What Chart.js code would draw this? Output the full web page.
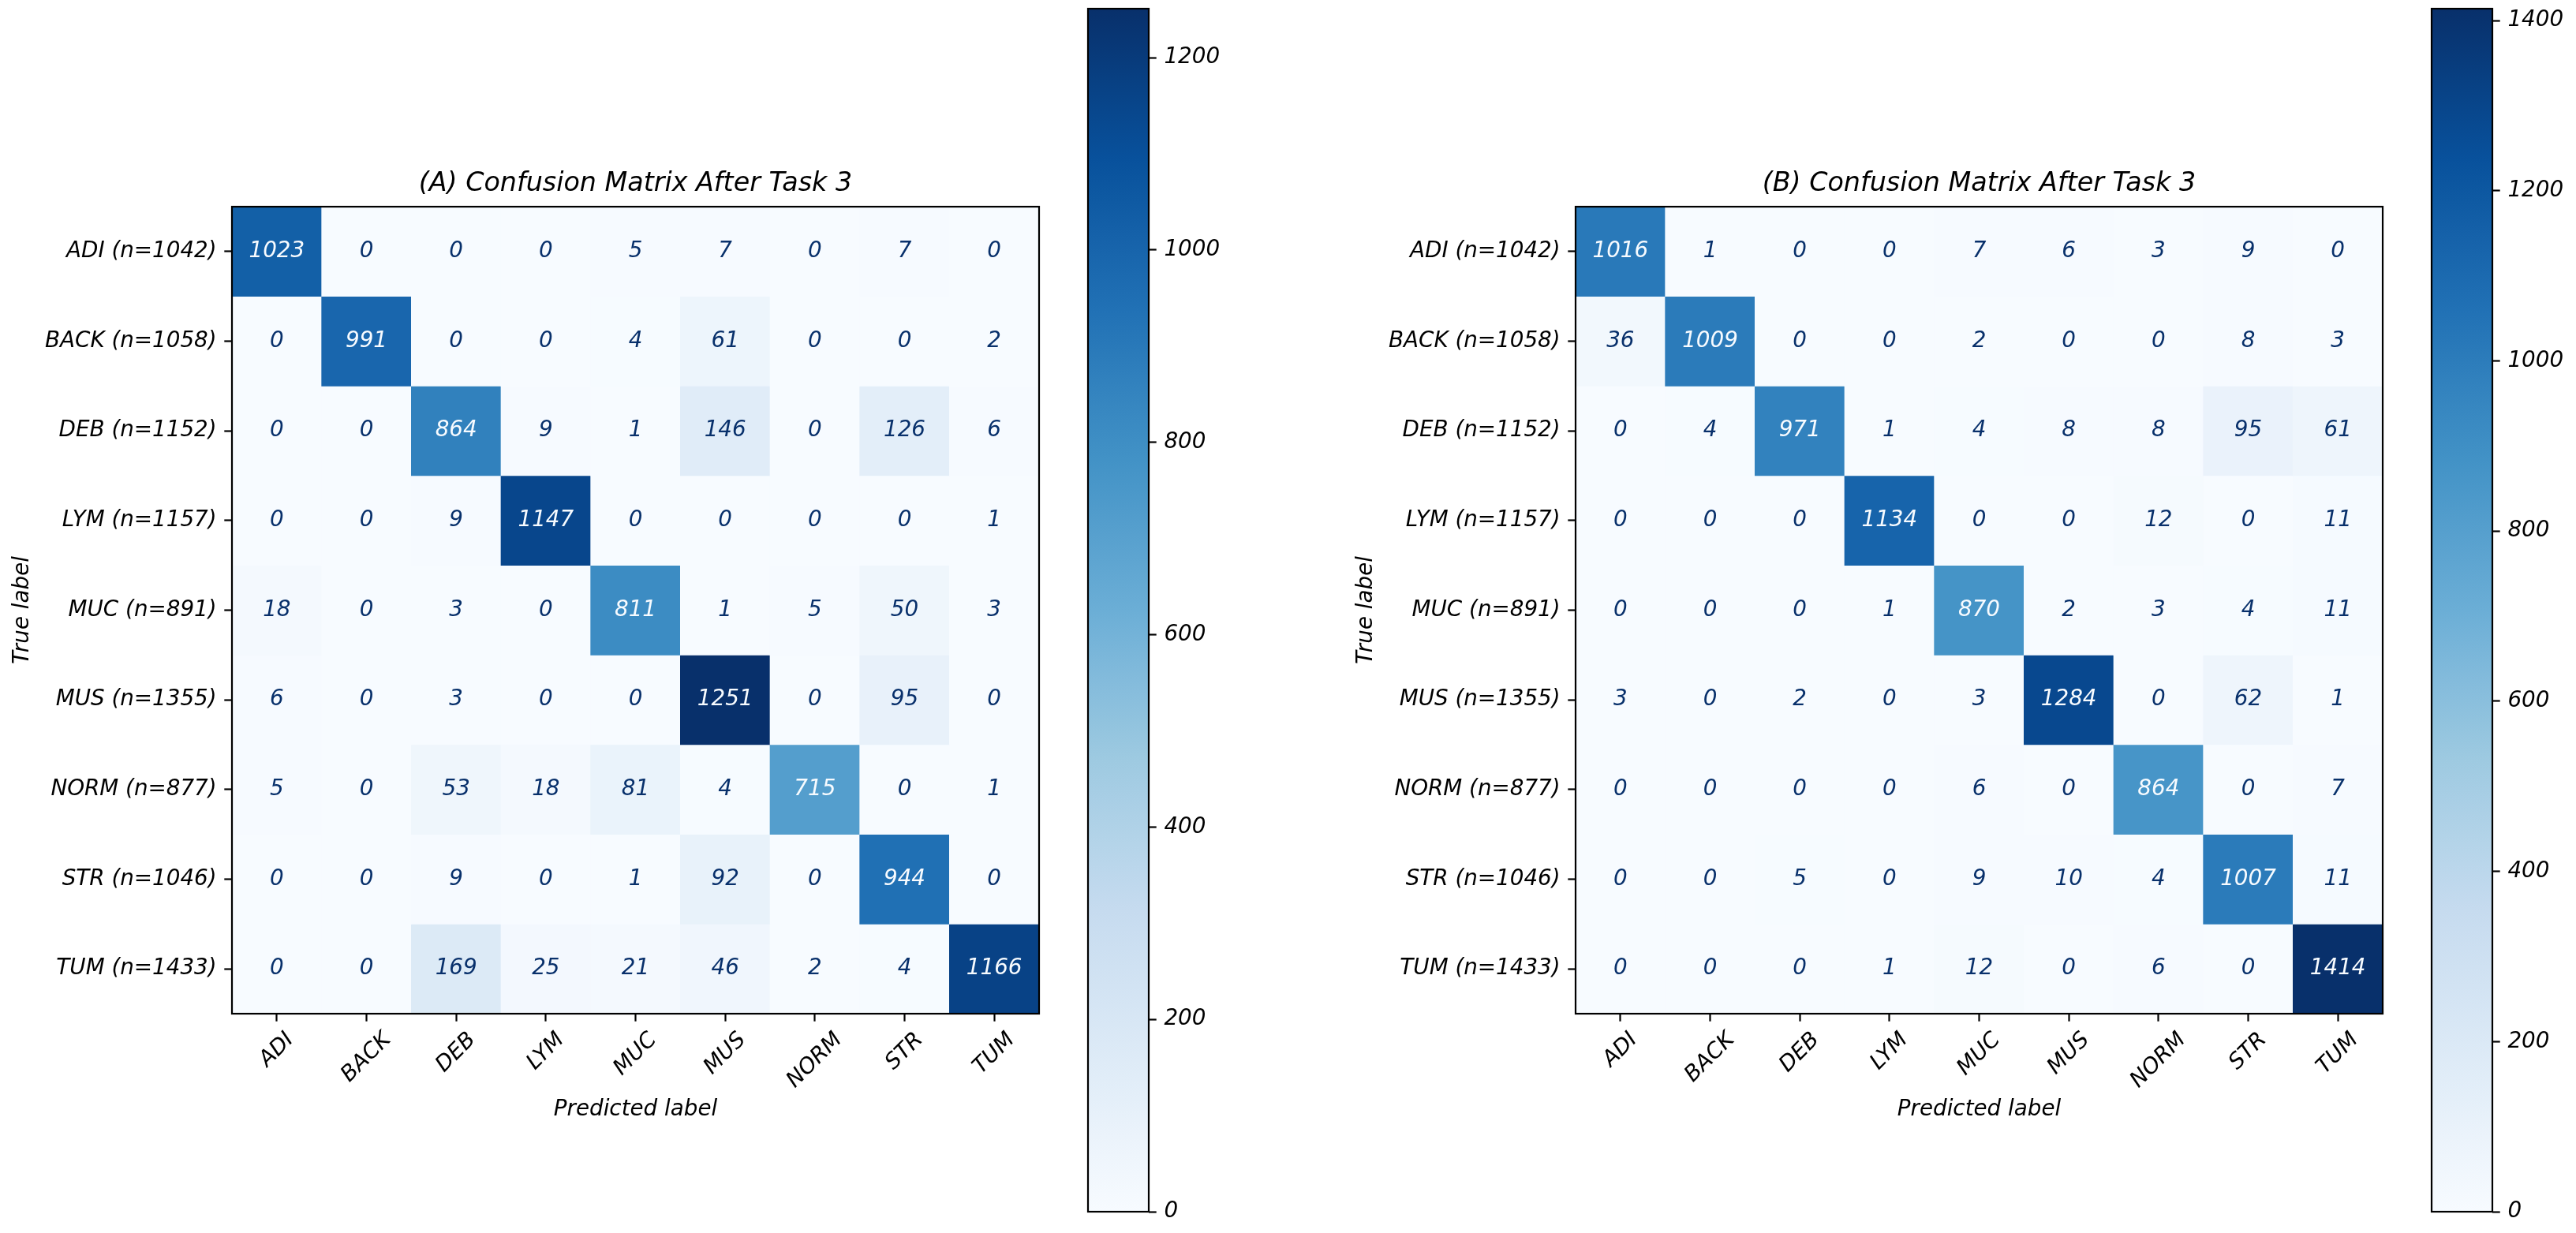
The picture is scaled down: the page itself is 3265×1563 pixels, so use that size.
<!DOCTYPE html>
<html>
<head>
<meta charset="utf-8">
<script src="https://cdn.jsdelivr.net/npm/chart.js@4.4.0/dist/chart.umd.min.js"></script>
<style>
	body { margin:0; background:#fff; }
	#wrap { position:relative; width:3265px; height:1563px; overflow:hidden; background:#fff; }
	canvas { position:absolute; top:0; }
</style>
</head>
<body>
<div id="wrap">
	<canvas id="cmA" width="1340" height="1563" style="left:0px"></canvas>
	<canvas id="cbA" width="190" height="1563" style="left:1370px"></canvas>
	<canvas id="cmB" width="1340" height="1563" style="left:1703px"></canvas>
	<canvas id="cbB" width="190" height="1563" style="left:3073px"></canvas>
</div>
<script>
// classes / labels
var classes = ['ADI','BACK','DEB','LYM','MUC','MUS','NORM','STR','TUM'];
var trueLabels = ['ADI (n=1042)','BACK (n=1058)','DEB (n=1152)','LYM (n=1157)','MUC (n=891)',
                  'MUS (n=1355)','NORM (n=877)','STR (n=1046)','TUM (n=1433)'];

// (A) rows = true, cols = predicted
var cmA = [
	[1023,   0,   0,    0,   5,    7,   0,   7,    0],
	[   0, 991,   0,    0,   4,   61,   0,   0,    2],
	[   0,   0, 864,    9,   1,  146,   0, 126,    6],
	[   0,   0,   9, 1147,   0,    0,   0,   0,    1],
	[  18,   0,   3,    0, 811,    1,   5,  50,    3],
	[   6,   0,   3,    0,   0, 1251,   0,  95,    0],
	[   5,   0,  53,   18,  81,    4, 715,   0,    1],
	[   0,   0,   9,    0,   1,   92,   0, 944,    0],
	[   0,   0, 169,   25,  21,   46,   2,   4, 1166]
];

// (B)
var cmB = [
	[1016,    1,   0,    0,   7,    6,   3,    9,    0],
	[  36, 1009,   0,    0,   2,    0,   0,    8,    3],
	[   0,    4, 971,    1,   4,    8,   8,   95,   61],
	[   0,    0,   0, 1134,   0,    0,  12,    0,   11],
	[   0,    0,   0,    1, 870,    2,   3,    4,   11],
	[   3,    0,   2,    0,   3, 1284,   0,   62,    1],
	[   0,    0,   0,    0,   6,    0, 864,    0,    7],
	[   0,    0,   5,    0,   9,   10,   4, 1007,   11],
	[   0,    0,   0,    1,  12,    0,   6,    0, 1414]
];

var cbarTicksA = [0,200,400,600,800,1000,1200];
var cbarTicksB = [0,200,400,600,800,1000,1200,1400];
var titleA = '(A) Confusion Matrix After Task 3';
var titleB = '(B) Confusion Matrix After Task 3';

var FONT = "'DejaVu Sans'";
var SZ = 27.78;
var TICK = 9.7;
var LW = 2.2;

// matplotlib Blues
var BLUES = [[247,251,255],[222,235,247],[198,219,239],[158,202,225],[107,174,214],
             [66,146,198],[33,113,181],[8,81,156],[8,48,107]];
function blues(t){
	t = Math.max(0, Math.min(1, t));
	var p = t * 8, i = Math.min(7, Math.floor(p)), f = p - i;
	var a = BLUES[i], b = BLUES[i+1];
	return 'rgb(' + Math.round(a[0]+(b[0]-a[0])*f) + ',' + Math.round(a[1]+(b[1]-a[1])*f) + ',' + Math.round(a[2]+(b[2]-a[2])*f) + ')';
}

function zeroPad(s){ s.paddingTop = 0; s.paddingBottom = 0; s.paddingLeft = 0; s.paddingRight = 0; }

function italic(size){ return { family: FONT, size: size, style: 'italic', weight: 'normal' }; }

// cell numbers, frame, rotated x labels
var matrixPlugin = {
	id: 'matrixText',
	afterDatasetsDraw: function(chart){
		var ctx = chart.ctx, xs = chart.scales.x, ys = chart.scales.y;
		ctx.save();
		ctx.font = 'italic ' + SZ + 'px ' + FONT;
		ctx.textAlign = 'center';
		ctx.textBaseline = 'middle';
		chart.data.datasets.forEach(function(ds, r){
			ds.counts.forEach(function(v, c){
				ctx.fillStyle = v < ds.thresh ? '#08306b' : '#f7fbff';
				ctx.fillText(String(v), xs.getPixelForValue(c), ys.getPixelForValue(r));
			});
		});
		ctx.restore();
	},
	afterDraw: function(chart){
		var ctx = chart.ctx, a = chart.chartArea, xs = chart.scales.x;
		ctx.save();
		ctx.strokeStyle = '#000';
		ctx.lineWidth = LW;
		ctx.strokeRect(a.left, a.top, a.right - a.left, a.bottom - a.top);
		ctx.font = 'italic ' + SZ + 'px ' + FONT;
		ctx.fillStyle = '#000';
		ctx.textAlign = 'center';
		ctx.textBaseline = 'middle';
		chart.data.labels.forEach(function(lab, i){
			var w = ctx.measureText(lab).width;
			var side = (w + 0.968 * SZ) / Math.SQRT2;
			var cx = xs.getPixelForTick(i);
			var cy = a.bottom + TICK + TICK + side / 2;
			ctx.save();
			ctx.translate(cx, cy);
			ctx.rotate(-Math.PI / 4);
			ctx.fillText(lab, 0, 0);
			ctx.restore();
		});
		ctx.restore();
	}
};

var framePlugin = {
	id: 'cbarFrame',
	afterDraw: function(chart){
		var ctx = chart.ctx, a = chart.chartArea;
		ctx.save();
		ctx.strokeStyle = '#000';
		ctx.lineWidth = LW;
		ctx.strokeRect(a.left, a.top, a.right - a.left, a.bottom - a.top);
		ctx.restore();
	}
};

function maxOf(cm){ return Math.max.apply(null, cm.map(function(r){ return Math.max.apply(null, r); })); }
function minOf(cm){ return Math.min.apply(null, cm.map(function(r){ return Math.min.apply(null, r); })); }

function makeMatrix(id, cm, title){
	var vmax = maxOf(cm), vmin = minOf(cm);
	var thresh = (vmax + vmin) / 2;
	var datasets = cm.map(function(row, r){
		return {
			data: row.map(function(){ return [r - 0.5, r + 0.5]; }),
			backgroundColor: row.map(function(v){ return blues((v - vmin) / (vmax - vmin)); }),
			counts: row,
			thresh: thresh,
			borderWidth: 0,
			barPercentage: 1,
			categoryPercentage: 1,
			grouped: false
		};
	});
	return new Chart(id, {
		type: 'bar',
		data: { labels: classes, datasets: datasets },
		options: {
			responsive: false,
			animation: false,
			events: [],
			layout: { padding: { left: 0, right: 23, top: 0, bottom: 138 } },
			plugins: {
				legend: { display: false },
				tooltip: { enabled: false },
				title: {
					display: true, text: title, fullSize: false, color: '#000',
					font: italic(33.33),
					padding: { top: 213.8, bottom: 8.2 }
				}
			},
			scales: {
				x: {
					type: 'category',
					offset: true,
					grid: { offset: false, drawOnChartArea: false, drawTicks: true, tickLength: TICK, tickWidth: LW, tickColor: '#000' },
					border: { display: false },
					ticks: { display: false },
					title: { display: true, text: 'Predicted label', color: '#000', font: italic(SZ), padding: { top: 0, bottom: 1.3 } },
					afterFit: function(s){ s.height = 140; zeroPad(s); }
				},
				y: {
					type: 'linear',
					reverse: true,
					min: -0.5,
					max: 8.5,
					afterBuildTicks: function(s){
						s.ticks = trueLabels.map(function(_, i){ return { value: i }; });
					},
					ticks: {
						autoSkip: false, padding: TICK, color: '#000', font: italic(SZ),
						callback: function(v){ return trueLabels[v]; }
					},
					grid: { drawOnChartArea: false, drawTicks: true, tickLength: TICK, tickWidth: LW, tickColor: '#000' },
					border: { display: false },
					title: { display: true, text: 'True label', color: '#000', font: italic(SZ), padding: { top: 11.7, bottom: 0 } },
					afterFit: function(s){ s.width = 294; zeroPad(s); }
				}
			}
		},
		plugins: [matrixPlugin]
	});
}

function makeCbar(id, cm, tickVals){
	var vmax = maxOf(cm), vmin = minOf(cm);
	return new Chart(id, {
		type: 'bar',
		data: {
			labels: [''],
			datasets: [{
				data: [[vmin, vmax]],
				borderWidth: 0,
				barPercentage: 1,
				categoryPercentage: 1,
				backgroundColor: function(c){
					var a = c.chart.chartArea;
					if (!a) return blues(0.5);
					var g = c.chart.ctx.createLinearGradient(0, a.bottom, 0, a.top);
					for (var i = 0; i <= 32; i++) g.addColorStop(i / 32, blues(i / 32));
					return g;
				}
			}]
		},
		options: {
			responsive: false,
			animation: false,
			events: [],
			layout: { padding: { left: 9, right: 0, top: 11, bottom: 27 } },
			plugins: { legend: { display: false }, tooltip: { enabled: false }, title: { display: false } },
			scales: {
				x: { display: false, offset: true },
				y: {
					type: 'linear',
					position: 'right',
					min: vmin,
					max: vmax,
					afterBuildTicks: function(s){
						s.ticks = tickVals.map(function(v){ return { value: v }; });
					},
					ticks: {
						autoSkip: false, padding: TICK, color: '#000', font: italic(SZ),
						callback: function(v){ return String(v); }
					},
					grid: { drawOnChartArea: false, drawTicks: true, tickLength: TICK, tickWidth: LW, tickColor: '#000' },
					border: { display: false },
					afterFit: function(s){ s.width = 104; zeroPad(s); }
				}
			}
		},
		plugins: [framePlugin]
	});
}

document.addEventListener("DOMContentLoaded", function(){
	Chart.defaults.font.family = FONT;
	makeMatrix('cmA', cmA, titleA);
	makeCbar('cbA', cmA, cbarTicksA);
	makeMatrix('cmB', cmB, titleB);
	makeCbar('cbB', cmB, cbarTicksB);
});
</script>
</body>
</html>
